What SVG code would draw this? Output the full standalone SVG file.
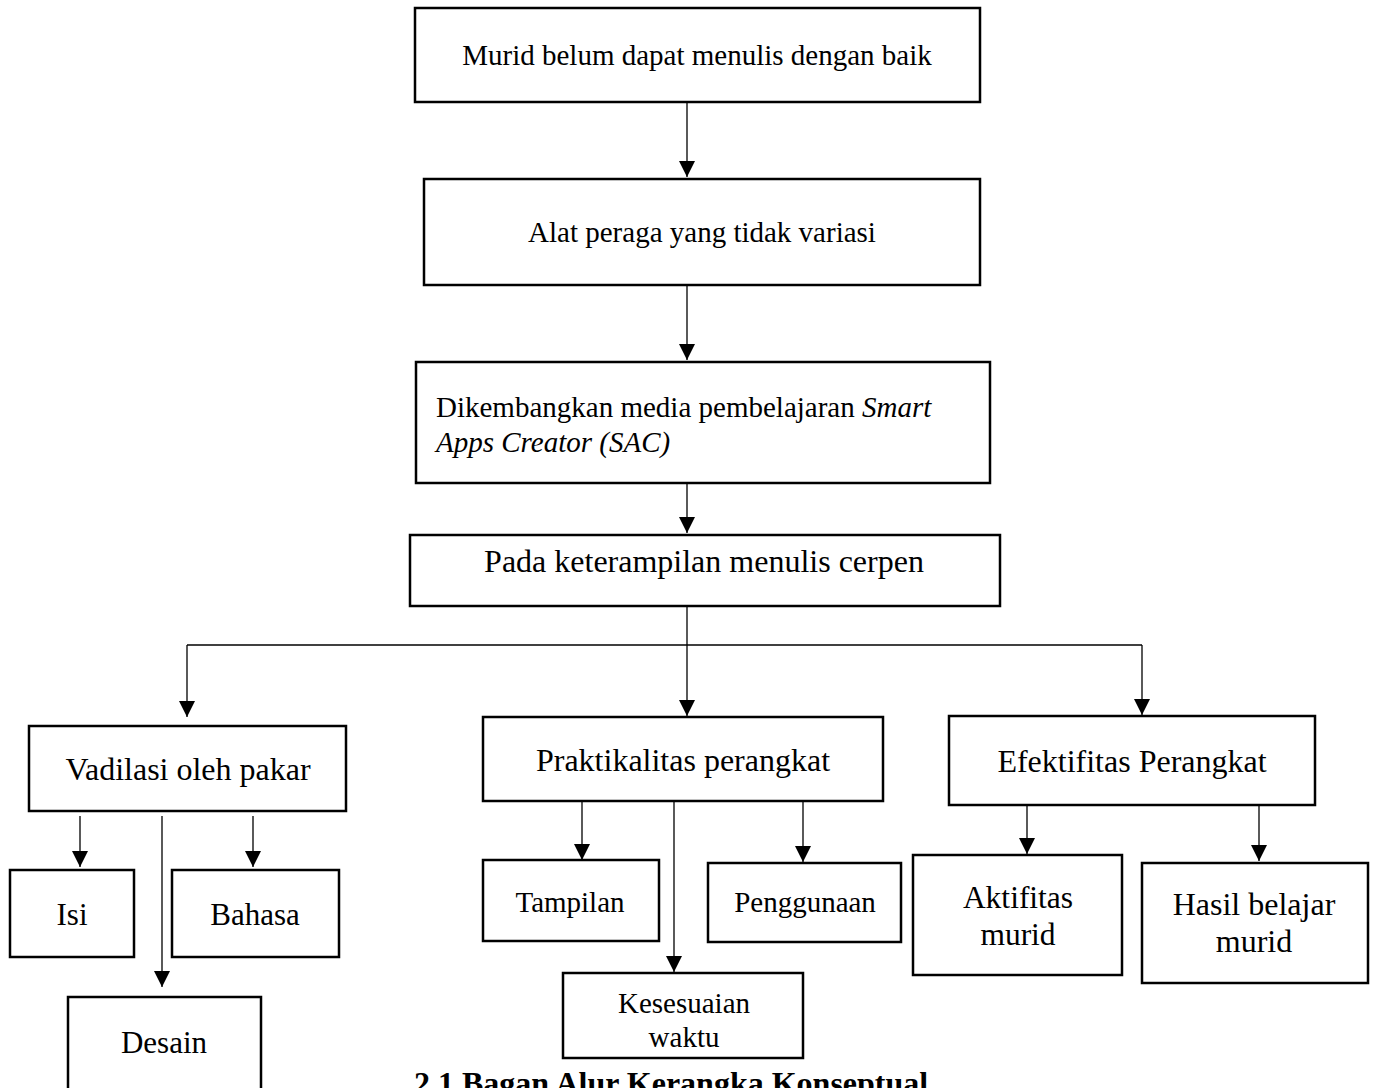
<svg xmlns="http://www.w3.org/2000/svg" width="1378" height="1088" viewBox="0 0 1378 1088">
<defs>
<marker id="ah" viewBox="0 0 16 16" markerWidth="16" markerHeight="16" refX="16" refY="8" orient="auto" markerUnits="userSpaceOnUse">
<path d="M0,0 L16,8 L0,16 z" fill="#000"/>
</marker>
<style>
.box{fill:#fff;stroke:#000;stroke-width:2.5}
.t{font-family:"Liberation Serif","Times New Roman",serif;fill:#000;text-anchor:middle}
.l{font-family:"Liberation Serif","Times New Roman",serif;fill:#000}
.c{stroke:#000;stroke-width:1.3;fill:none}
.a{marker-end:url(#ah)}
</style>
</defs>
<rect width="1378" height="1088" fill="#fff"/>
<g id="connectors">
<line class="c a" x1="687" y1="102" x2="687" y2="177"/>
<line class="c a" x1="687" y1="285" x2="687" y2="360"/>
<line class="c a" x1="687" y1="483" x2="687" y2="533"/>
<line class="c a" x1="687" y1="606" x2="687" y2="716"/>
<line class="c" x1="187" y1="645" x2="1142" y2="645"/>
<line class="c a" x1="187" y1="645" x2="187" y2="717"/>
<line class="c a" x1="1142" y1="645" x2="1142" y2="715"/>
<line class="c a" x1="80" y1="816" x2="80" y2="867"/>
<line class="c a" x1="162" y1="816" x2="162" y2="987"/>
<line class="c a" x1="253" y1="816" x2="253" y2="867"/>
<line class="c a" x1="582" y1="801" x2="582" y2="860"/>
<line class="c a" x1="674" y1="801" x2="674" y2="972"/>
<line class="c a" x1="803" y1="801" x2="803" y2="862"/>
<line class="c a" x1="1027" y1="805" x2="1027" y2="854"/>
<line class="c a" x1="1259" y1="805" x2="1259" y2="861"/>
</g>
<g id="n1"><rect class="box" x="415" y="8" width="565" height="94"/><text class="t" x="697" y="65" font-size="29">Murid belum dapat menulis dengan baik</text></g>
<g id="n2"><rect class="box" x="424" y="179" width="556" height="106"/><text class="t" x="702" y="242" font-size="29">Alat peraga yang tidak variasi</text></g>
<g id="n3"><rect class="box" x="416" y="362" width="574" height="121"/><text class="l" x="436" y="417" font-size="29">Dikembangkan media pembelajaran <tspan font-style="italic">Smart</tspan></text><text class="l" x="436" y="452" font-size="29" font-style="italic">Apps Creator (SAC)</text></g>
<g id="n4"><rect class="box" x="410" y="535" width="590" height="71"/><text class="t" x="704" y="572" font-size="32">Pada keterampilan menulis cerpen</text></g>
<g id="n5"><rect class="box" x="29" y="726" width="317" height="85"/><text class="t" x="188" y="780" font-size="32">Vadilasi oleh pakar</text></g>
<g id="n6"><rect class="box" x="483" y="717" width="400" height="84"/><text class="t" x="683" y="771" font-size="32">Praktikalitas perangkat</text></g>
<g id="n7"><rect class="box" x="949" y="716" width="366" height="89"/><text class="t" x="1132" y="772" font-size="32">Efektifitas Perangkat</text></g>
<g id="n8"><rect class="box" x="10" y="870" width="124" height="87"/><text class="t" x="72" y="925" font-size="31">Isi</text></g>
<g id="n9"><rect class="box" x="172" y="870" width="167" height="87"/><text class="t" x="255" y="925" font-size="31">Bahasa</text></g>
<g id="n10"><rect class="box" x="68" y="997" width="193" height="110"/><text class="t" x="164" y="1053" font-size="31">Desain</text></g>
<g id="n11"><rect class="box" x="483" y="860" width="176" height="81"/><text class="t" x="570" y="912" font-size="29">Tampilan</text></g>
<g id="n12"><rect class="box" x="708" y="863" width="193" height="79"/><text class="t" x="805" y="912" font-size="29">Penggunaan</text></g>
<g id="n13"><rect class="box" x="563" y="973" width="240" height="85"/><text class="t" x="684" y="1013" font-size="29">Kesesuaian</text><text class="t" x="684" y="1047" font-size="29">waktu</text></g>
<g id="n14"><rect class="box" x="913" y="855" width="209" height="120"/><text class="t" x="1018" y="908" font-size="31.5">Aktifitas</text><text class="t" x="1018" y="945" font-size="31.5">murid</text></g>
<g id="n15"><rect class="box" x="1142" y="863" width="226" height="120"/><text class="t" x="1254" y="915" font-size="32">Hasil belajar</text><text class="t" x="1254" y="952" font-size="32">murid</text></g>
<g id="caption"><text class="l" x="414" y="1094" font-size="32" font-weight="bold">2.1 Bagan Alur Kerangka Konseptual</text></g>
</svg>
